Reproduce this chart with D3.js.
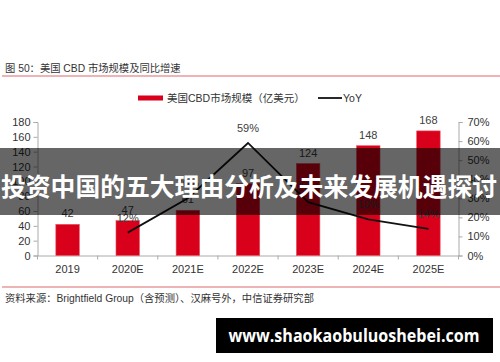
<!DOCTYPE html>
<html><head><meta charset="utf-8">
<script src="https://cdn.jsdelivr.net/npm/d3@7"></script>
<style>
html,body{margin:0;padding:0;background:#fff;}
svg{display:block;}
</style></head>
<body>
<svg id="c" width="500" height="362"></svg>
<script>
const categories = ["2019","2020E","2021E","2022E","2023E","2024E","2025E"];
const marketSize = [42,47,61,97,124,148,168];
const yoy = [null,12,30,59,28,19,14];
const leftTicks = [0,20,40,60,80,100,120,140,160,180];
const rightTicks = [0,10,20,30,40,50,60,70];

const svg = d3.select("#c");
const cjk = "'Liberation Sans','Noto Sans CJK SC',Arial,sans-serif";
const L = 37.5, R = 458.5, T = 122, B = 255.5;

svg.append("rect").attr("width",500).attr("height",362).attr("fill","#fff");

// title
svg.append("text").attr("x",5).attr("y",72).attr("font-family",cjk).attr("font-size",10.3)
  .attr("fill","#333").text("图 50：美国 CBD 市场规模及同比增速");
svg.append("line").attr("x1",2).attr("x2",500).attr("y1",76).attr("y2",76)
  .attr("stroke","#e89a9c").attr("stroke-width",1.5);

const x = d3.scaleBand().domain(categories).range([L,R]).paddingInner(0.61).paddingOuter(0.305);
const xb = d3.scaleBand().domain(categories).range([L,R]);
const y = d3.scaleLinear().domain([0,180]).range([B,T]);
const y2 = d3.scaleLinear().domain([0,70]).range([B,T]);

// axes
const gl = svg.append("g").attr("transform",`translate(${L},0)`)
  .call(d3.axisLeft(y).tickValues(leftTicks).tickSize(4).tickPadding(3));
const gr = svg.append("g").attr("transform",`translate(${R},0)`)
  .call(d3.axisRight(y2).tickValues(rightTicks).tickSize(4).tickPadding(5).tickFormat(d=>d+"%"));
const gx = svg.append("g").attr("transform",`translate(0,${B})`)
  .call(d3.axisBottom(xb).tickSize(0).tickPadding(8));
[gl,gr,gx].forEach(g=>{
  g.selectAll("path.domain").attr("stroke","#aaa");
  g.selectAll(".tick line").attr("stroke","#aaa");
  g.selectAll("text").attr("font-family","'Liberation Sans',Arial,sans-serif").attr("font-size",11).attr("fill","#333");
});
gx.selectAll(".tick text").attr("dy","0.9em");
// x category boundary ticks
svg.append("g").selectAll("line").data(categories.concat(["end"])).join("line")
  .attr("x1",(d,i)=>L+i*xb.step()).attr("x2",(d,i)=>L+i*xb.step())
  .attr("y1",B).attr("y2",B+4).attr("stroke","#aaa");

// bars
svg.append("g").selectAll("rect").data(marketSize).join("rect")
  .attr("x",(d,i)=>x(categories[i])).attr("width",x.bandwidth())
  .attr("y",d=>y(d)).attr("height",d=>B-y(d))
  .attr("fill","#d9001b").attr("stroke","#e8505f").attr("stroke-width",0.6);
svg.append("g").selectAll("text").data(marketSize).join("text")
  .attr("x",(d,i)=>xb(categories[i])+xb.bandwidth()/2).attr("y",d=>y(d)-7)
  .attr("text-anchor","middle").attr("font-family","'Liberation Sans',Arial,sans-serif")
  .attr("font-size",11).attr("fill","#404040").text(d=>d);

// line
const pts = yoy.map((v,i)=>({v,c:categories[i]})).filter(p=>p.v!==null);
const line = d3.line().x(p=>xb(p.c)+xb.bandwidth()/2).y(p=>y2(p.v));
svg.append("path").datum(pts).attr("d",line).attr("fill","none")
  .attr("stroke","#111").attr("stroke-width",1.8);
svg.append("g").selectAll("text").data(pts).join("text")
  .attr("x",p=>xb(p.c)+xb.bandwidth()/2).attr("y",p=>y2(p.v)-11)
  .attr("text-anchor","middle").attr("font-family","'Liberation Sans',Arial,sans-serif")
  .attr("font-size",11).attr("fill","#404040").text(p=>p.v+"%");

// legend
svg.append("rect").attr("x",138).attr("y",95.5).attr("width",25).attr("height",5).attr("fill","#d9001b");
svg.append("text").attr("x",167).attr("y",102).attr("font-family",cjk).attr("font-size",10.5)
  .attr("fill","#333").text("美国CBD市场规模（亿美元）");
svg.append("line").attr("x1",318).attr("x2",342).attr("y1",98).attr("y2",98).attr("stroke","#111").attr("stroke-width",1.8);
svg.append("text").attr("x",343).attr("y",102).attr("font-family",cjk).attr("font-size",10.5)
  .attr("fill","#333").text("YoY");

// source
svg.append("line").attr("x1",2).attr("x2",500).attr("y1",287).attr("y2",287)
  .attr("stroke","#e89a9c").attr("stroke-width",1.5);
svg.append("text").attr("x",5).attr("y",302).attr("font-family",cjk).attr("font-size",10.3)
  .attr("fill","#333").text("资料来源：Brightfield Group（含预测）、汉麻号外，中信证券研究部");

// overlay banner
svg.append("rect").attr("x",0).attr("y",148).attr("width",500).attr("height",67)
  .attr("fill","rgba(0,0,0,0.6)");
svg.append("text").attr("x",249).attr("y",185).attr("dominant-baseline","central")
  .attr("text-anchor","middle").attr("font-family","'Noto Sans CJK SC',sans-serif")
  .attr("font-weight","bold").attr("font-size",25).attr("fill","#fff")
  .attr("textLength",496).attr("lengthAdjust","spacingAndGlyphs")
  .text("投资中国的五大理由分析及未来发展机遇探讨");

// watermark
svg.append("rect").attr("x",216).attr("y",318).attr("width",277).attr("height",35).attr("fill","#000");
svg.append("text").attr("x",354).attr("y",335.5).attr("dominant-baseline","central")
  .attr("text-anchor","middle").attr("font-family","'Open Sans',sans-serif")
  .attr("font-weight","bold").attr("font-size",17).attr("fill","#fff")
  .attr("textLength",251).attr("lengthAdjust","spacingAndGlyphs")
  .text("www.shaokaobuluoshebei.com");
</script>
</body></html>
